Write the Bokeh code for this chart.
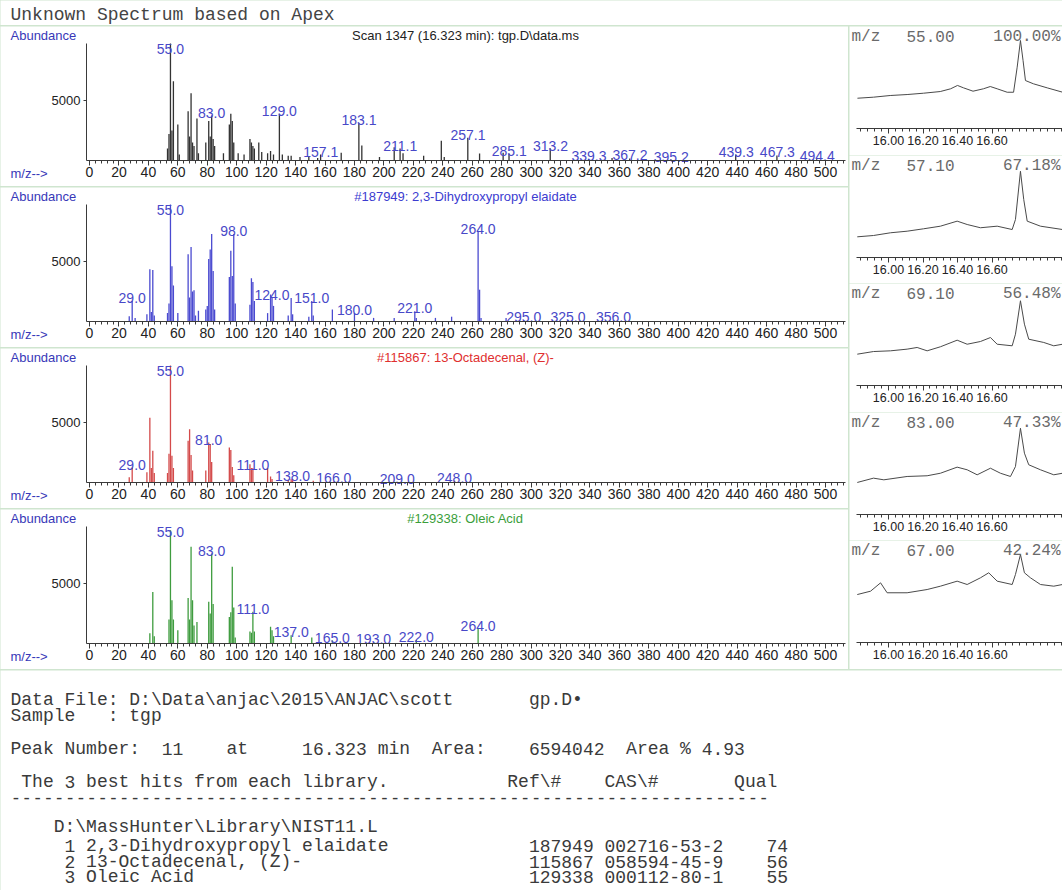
import numpy as np
from bokeh.plotting import figure
from bokeh.layouts import column, row
from bokeh.models import Range1d, FixedTicker, LinearAxis, ColumnDataSource, PrintfTickFormatter
from bokeh.core.properties import value
from bokeh.embed import file_html
from bokeh.resources import INLINE

# ---------------- data ----------------
page_title = "Unknown Spectrum based on Apex"

spec_titles = ["Scan 1347 (16.323 min): tgp.D\\data.ms",
               "#187949: 2,3-Dihydroxypropyl elaidate",
               "#115867: 13-Octadecenal, (Z)-",
               "#129338: Oleic Acid"]

# Scan (unknown) spectrum
mz_scan = [53, 54, 55, 56, 57, 60, 61, 67, 68, 69, 70, 71, 73, 74, 79, 81, 82, 83, 84, 85, 91, 95, 96, 97,
           98, 101, 105, 109, 110, 111, 112, 115, 117, 121, 123, 125, 129, 131, 135, 137, 143, 149, 155, 157,
           171, 183, 185, 197, 207, 211, 213, 227, 239, 241, 257, 265, 281, 285, 313, 339, 355, 367, 395,
           439, 467, 494]
ab_scan = [1000, 2200, 9750, 2500, 6600, 3000, 500, 4100, 2000, 5600, 1500, 1200, 3500, 600, 1500, 3300,
           2000, 3750, 1800, 1200, 600, 3000, 3900, 3300, 1500, 600, 500, 1800, 1500, 1200, 1000, 1500, 700,
           600, 800, 500, 3900, 500, 400, 400, 300, 300, 200, 500, 650, 3100, 1250, 300, 1100, 1000, 600,
           400, 1650, 300, 1900, 580, 650, 580, 1000, 120, 200, 170, 80, 500, 420, 100]
lab_scan = [55.0, 83.0, 129.0, 157.1, 183.1, 211.1, 257.1, 285.1, 313.2, 339.3, 367.2, 395.2, 439.3,
            467.3, 494.4]

# Hit 1: 2,3-Dihydroxypropyl elaidate
mz_hit1 = [27, 29, 31, 39, 41, 42, 43, 44, 53, 54, 55, 56, 57, 60, 67, 68, 69, 70, 71, 72, 74, 79, 80, 81,
           82, 83, 84, 85, 95, 96, 97, 98, 99, 109, 110, 111, 112, 121, 123, 124, 125, 135, 137, 138, 149,
           151, 152, 165, 180, 193, 207, 221, 222, 235, 246, 264, 265, 266, 283, 295, 325, 356]
ab_hit1 = [440, 1700, 300, 600, 4350, 800, 4300, 500, 700, 1500, 9750, 4600, 3000, 700, 5600, 2000, 6200,
           2500, 2600, 500, 900, 1000, 1300, 5200, 6000, 7300, 4200, 1000, 3700, 5900, 3800, 7300, 1500,
           1400, 3600, 3300, 1700, 700, 2250, 2000, 1300, 500, 1950, 600, 400, 1700, 500, 1000, 700, 300,
           300, 860, 300, 300, 400, 7500, 2650, 300, 300, 120, 150, 120]
lab_hit1 = [29.0, 55.0, 98.0, 124.0, 151.0, 180.0, 221.0, 264.0, 295.0, 325.0, 356.0]

# Hit 2: 13-Octadecenal, (Z)-
mz_hit2 = [27, 29, 39, 41, 42, 43, 44, 53, 54, 55, 56, 57, 67, 68, 69, 70, 79, 81, 82, 83, 95, 96, 97, 98,
           109, 110, 111, 121, 123, 124, 135, 137, 138, 152, 166, 209, 248]
ab_hit2 = [440, 1250, 860, 5400, 1200, 2640, 800, 800, 2400, 9750, 2220, 1200, 3470, 4440, 2300, 1000,
           1000, 3330, 3200, 1700, 2920, 2700, 1300, 600, 1530, 1200, 1200, 1200, 500, 300, 200, 300, 300,
           150, 100, 50, 150]
lab_hit2 = [29.0, 55.0, 81.0, 111.0, 138.0, 166.0, 209.0, 248.0]

# Hit 3: Oleic Acid
mz_hit3 = [41, 43, 44, 54, 55, 56, 57, 60, 67, 68, 69, 70, 71, 73, 81, 82, 83, 84, 95, 96, 97, 98, 99,
           109, 110, 111, 112, 123, 124, 125, 137, 151, 165, 193, 222, 264]
ab_hit3 = [850, 4300, 600, 2000, 9440, 3610, 2000, 1110, 3800, 2000, 8060, 3610, 1500, 1800, 3470, 2500,
           7500, 3300, 2200, 2600, 6390, 3000, 500, 1000, 900, 2640, 1000, 1390, 1100, 600, 690, 500, 250,
           100, 300, 1250]
lab_hit3 = [55.0, 83.0, 111.0, 137.0, 165.0, 193.0, 222.0, 264.0]

mz_ticks = list(range(0, 501, 20))
mz_minor = list(range(0, 513, 4))
ab_ticks = [5000]

# extracted ion chromatograms
chrom_mz = ["55.00", "57.10", "69.10", "83.00", "67.00"]
chrom_pct = ["100.00%", "67.18%", "56.48%", "47.33%", "42.24%"]
t_55 = [15.82, 15.913, 16.01, 16.108, 16.203, 16.30, 16.36, 16.40, 16.435, 16.49, 16.55, 16.59, 16.63,
        16.688, 16.725, 16.746, 16.765, 16.78, 16.794, 16.84, 16.92, 17.01]
i_55 = [34.4, 35.6, 37.5, 38.6, 40.1, 42.0, 45.1, 48.9, 46.2, 42.4, 45.1, 47.7, 45.1, 41.2, 41.2, 69.7,
        100, 77.3, 54.5, 50.8, 46.2, 41.2]
t_57 = [15.819, 15.913, 16.012, 16.108, 16.203, 16.301, 16.398, 16.456, 16.533, 16.630, 16.717, 16.736,
        16.765, 16.784, 16.804, 16.881, 17.009]
i_57 = [23.5, 25.0, 28.1, 29.9, 32.6, 35.6, 41.3, 37.5, 33.8, 35.6, 31.8, 43.2, 98.0, 65.9, 41.3, 35.6, 31.8]
t_69 = [15.819, 15.913, 16.012, 16.108, 16.166, 16.224, 16.301, 16.398, 16.456, 16.533, 16.591, 16.630,
        16.717, 16.736, 16.765, 16.788, 16.813, 16.900, 16.958, 17.009]
i_69 = [35.6, 38.6, 39.4, 41.3, 43.2, 39.4, 44.0, 51.5, 46.9, 50.0, 54.5, 46.9, 45.1, 58.3, 96.3, 69.7,
        52.6, 48.9, 45.1, 46.9]
t_83 = [15.819, 15.913, 15.973, 16.108, 16.224, 16.301, 16.398, 16.456, 16.514, 16.591, 16.649, 16.707,
        16.736, 16.765, 16.788, 16.813, 16.881, 16.958, 17.009]
i_83 = [36.4, 41.3, 39.4, 43.2, 44.0, 46.9, 53.8, 50.8, 45.1, 52.6, 46.9, 43.2, 54.5, 98.0, 69.7, 56.5,
        50.8, 45.1, 46.9]
t_67 = [15.819, 15.896, 15.954, 15.992, 16.108, 16.224, 16.301, 16.398, 16.456, 16.533, 16.581, 16.630,
        16.717, 16.736, 16.765, 16.788, 16.823, 16.881, 16.958, 17.009]
i_67 = [54.5, 58.3, 67.8, 56.5, 56.5, 60.2, 64.0, 69.7, 65.9, 73.5, 79.2, 69.7, 65.9, 77.3, 100, 79.2,
        73.5, 65.9, 64.0, 65.9]
time_major = [16.0, 16.2, 16.4, 16.6]
time_minor = [round(15.84 + 0.04 * k, 2) for k in range(30)]

# report text: (token, column) per line
report_lines = [
    [("Data", 0), ("File:", 5), ("D:\\Data\\anjac\\2015\\ANJAC\\scott", 11), ("gp.D\u2022", 48)],
    [("Sample", 0), (":", 9), ("tgp", 11)],
    [("Peak", 0), ("Number:", 5), ("11", 14), ("at", 20), ("16.323", 27), ("min", 34), ("Area:", 39),
     ("6594042", 48), ("Area", 57), ("%", 62), ("4.93", 64)],
    [("The", 1), ("3", 5), ("best", 7), ("hits", 12), ("from", 17), ("each", 22), ("library.", 27),
     ("Ref\\#", 46), ("CAS\\#", 55), ("Qual", 67)],
    [("-" * 70, 0)],
    [("D:\\MassHunter\\Library\\NIST11.L", 4)],
    [("1", 5), ("2,3-Dihydroxypropyl", 7), ("elaidate", 27), ("187949", 48), ("002716-53-2", 55), ("74", 70)],
    [("2", 5), ("13-Octadecenal,", 7), ("(Z)-", 23), ("115867", 48), ("058594-45-9", 55), ("56", 70)],
    [("3", 5), ("Oleic", 7), ("Acid", 13), ("129338", 48), ("000112-80-1", 55), ("55", 70)],
]

# ---------------- style / geometry ----------------
SANS = "Liberation Sans"
MONO = "Liberation Mono"
AXIS = "#3a3a3a"
LAB_BLUE = "#4848c8"
FRAME_GREEN = "#cfe5cf"
bar_colors = ["#333333", "#4a4ad0", "#d44a4a", "#3f9c3f"]
title_colors = ["#222222", "#3c3cd0", "#e03030", "#3a9e3a"]

PAGE_W = 1062
SPEC_W, SPEC_H = 848, 160
MZ_PX = 1.472          # pixels per m/z unit
MZ0 = 89.0             # pixel column of m/z 0 inside a panel
AB_PX = 0.012          # pixels per abundance unit
BASE = 134.0           # pixel row of abundance 0 (from panel top)
AB_TOP = 9750          # top of the abundance axis


def mzx(px):
    return (px - MZ0) / MZ_PX


def aby(py):
    return (BASE - py) / AB_PX


def spec_panel(mz, ab, labels, k):
    p = figure(width=SPEC_W, height=SPEC_H,
               x_range=Range1d(mzx(0), mzx(SPEC_W)), y_range=Range1d(aby(SPEC_H), aby(0)),
               output_backend="svg", toolbar_location=None, min_border=0,
               x_axis_location=None, y_axis_location=None)
    p.outline_line_color = None
    p.grid.visible = False

    xa = LinearAxis(fixed_location=0, bounds=(mzx(86), mzx(845)),
                    ticker=FixedTicker(ticks=mz_ticks, minor_ticks=mz_minor))
    xa.major_tick_in = 0
    xa.major_tick_out = 5
    xa.minor_tick_in = 0
    xa.minor_tick_out = 3
    xa.axis_line_color = AXIS
    xa.major_tick_line_color = AXIS
    xa.minor_tick_line_color = AXIS
    xa.major_label_text_font = SANS
    xa.major_label_text_font_size = "14px"
    xa.major_label_text_color = "#222222"
    xa.major_label_standoff = 1
    p.add_layout(xa, "below")

    ya = LinearAxis(fixed_location=mzx(86), bounds=(0, AB_TOP),
                    ticker=FixedTicker(ticks=ab_ticks, minor_ticks=[]))
    ya.major_tick_in = 0
    ya.major_tick_out = 3
    ya.minor_tick_line_color = None
    ya.axis_line_color = AXIS
    ya.major_tick_line_color = AXIS
    ya.major_label_text_font = SANS
    ya.major_label_text_font_size = "13px"
    ya.major_label_text_color = "#222222"
    ya.major_label_standoff = 3
    p.add_layout(ya, "left")

    src = ColumnDataSource(dict(mz=mz, ab=ab))
    p.segment(x0="mz", y0=0, x1="mz", y1="ab", source=src, line_color=bar_colors[k], line_width=1.3)

    lookup = dict(zip(mz, ab))
    lab_y = [min(lookup.get(int(round(v)), 0), 0.93 * AB_TOP) for v in labels]
    lsrc = ColumnDataSource(dict(x=labels, y=lab_y, t=[f"{v:.1f}" for v in labels]))
    p.text(x="x", y="y", text="t", source=lsrc, text_font=value(SANS), text_font_size="14px",
           text_color=LAB_BLUE, text_align="center", text_baseline="alphabetic", y_offset=-3)

    # header and corner captions
    p.text(x=[mzx(10)], y=[aby(9)], text=["Abundance"], text_font=value(SANS), text_font_size="13px",
           text_color="#3838b8", text_align="left", text_baseline="middle")
    p.text(x=[mzx(465)], y=[aby(9)], text=[spec_titles[k]], text_font=value(SANS),
           text_font_size="13px", text_color=title_colors[k], text_align="center",
           text_baseline="middle")
    p.text(x=[mzx(10)], y=[aby(147)], text=["m/z-->"], text_font=value(SANS), text_font_size="13px",
           text_color="#3838b8", text_align="left", text_baseline="middle")
    return p


CW = PAGE_W - SPEC_W - 1      # 213
T_PX = 172.5                  # pixels per minute
T0 = 39.0                     # pixel column of 16.00 min inside a chromatogram panel
I_PX = 0.88                   # pixels per % unit
CBASE = 102.0                 # pixel row of 0 %


def tx(px):
    return 16.0 + (px - T0) / T_PX


def iy(py):
    return (CBASE - py) / I_PX


def chrom_panel(t, inten, k, h):
    p = figure(width=CW, height=h, x_range=Range1d(tx(0), tx(CW)), y_range=Range1d(iy(h), iy(0)),
               output_backend="svg", toolbar_location=None, min_border=0,
               x_axis_location=None, y_axis_location=None)
    p.outline_line_color = None
    p.grid.visible = False
    xa = LinearAxis(fixed_location=0, bounds=(tx(7), tx(CW)),
                    ticker=FixedTicker(ticks=time_major, minor_ticks=time_minor))
    xa.formatter = PrintfTickFormatter(format="%.2f")
    xa.major_tick_in = 0
    xa.major_tick_out = 5
    xa.minor_tick_in = 0
    xa.minor_tick_out = 3
    xa.axis_line_color = AXIS
    xa.major_tick_line_color = AXIS
    xa.minor_tick_line_color = AXIS
    xa.major_label_text_font = SANS
    xa.major_label_text_font_size = "12.5px"
    xa.major_label_text_color = "#222222"
    xa.major_label_standoff = 2
    p.add_layout(xa, "below")

    p.line(t, inten, line_color="#4a4a4a", line_width=1)

    p.text(x=[tx(2), tx(57), tx(211)], y=[iy(10)] * 3,
           text=["m/z", chrom_mz[k], chrom_pct[k]], text_font=value(MONO), text_font_size="16px",
           text_color="#6a6a6a", text_align=["left", "left", "right"], text_baseline="middle")
    return p


def text_figure(w, h):
    p = figure(width=w, height=h, x_range=Range1d(0, w), y_range=Range1d(h, 0),
               output_backend="svg", toolbar_location=None, x_axis_type=None, y_axis_type=None,
               min_border=0)
    p.outline_line_color = None
    p.grid.visible = False
    return p


CHAR = 10.8

# title strip
tfig = text_figure(PAGE_W, 25)
tfig.text(x=[10], y=[14], text=[page_title], text_font=value(MONO), text_font_size="18px",
          text_color="#444444", text_baseline="middle", text_align="left")

specs = [spec_panel(mz_scan, ab_scan, lab_scan, 0),
         spec_panel(mz_hit1, ab_hit1, lab_hit1, 1),
         spec_panel(mz_hit2, ab_hit2, lab_hit2, 2),
         spec_panel(mz_hit3, ab_hit3, lab_hit3, 3)]

chrom_t = [t_55, t_57, t_69, t_83, t_67]
chrom_i = [i_55, i_57, i_69, i_83, i_67]
chrom_h = [129, 128, 129, 128, 129]
chroms = [chrom_panel(chrom_t[k], chrom_i[k], k, chrom_h[k]) for k in range(5)]

left = column(specs, spacing=1)
right = column(chroms, spacing=0)
mid = row(left, right, spacing=1, styles={"background-color": FRAME_GREEN})

# report block
RH = 220
rfig = text_figure(PAGE_W, RH)
line_y = [29, 45, 78, 111, 126, 156, 175, 191, 206]
xs, ys, ts, fonts = [], [], [], []
for ly, toks in zip(line_y, report_lines):
    for tok, col in toks:
        xs.append(10 + col * CHAR)
        ys.append(ly)
        ts.append(tok)
        fonts.append("DejaVu Sans Mono" if tok.startswith("---") else MONO)
rsrc = ColumnDataSource(dict(x=xs, y=ys, t=ts, f=fonts))
rfig.text(x="x", y="y", text="t", text_font="f", source=rsrc, text_font_size="18px",
          text_color="#3a3a3a", text_baseline="middle", text_align="left")

layout = column(tfig, mid, rfig, spacing=1, styles={"background-color": FRAME_GREEN})

open("out.html", "w").write(file_html(layout, INLINE))
